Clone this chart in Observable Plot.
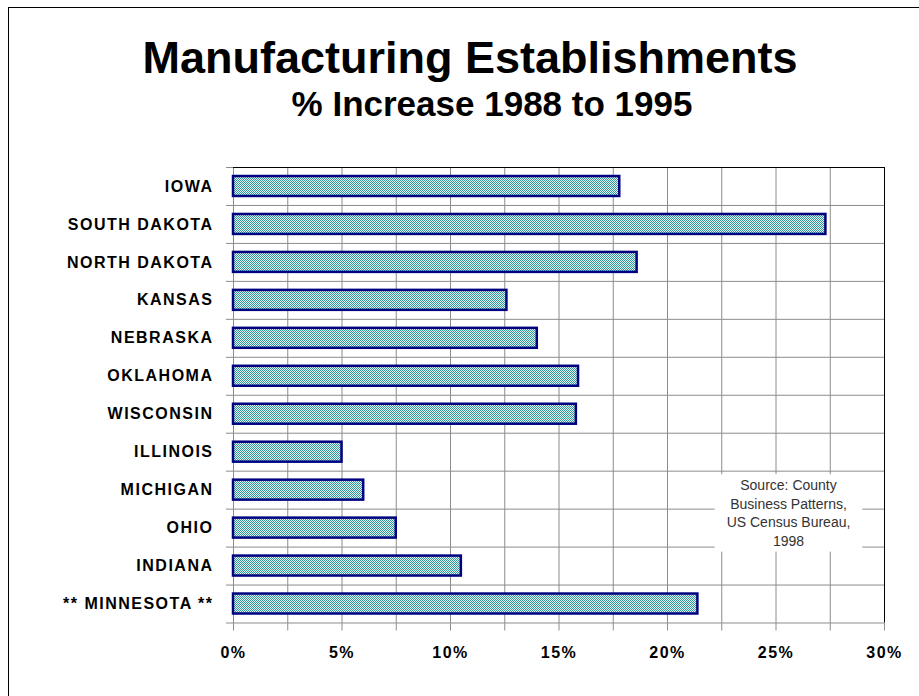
<!DOCTYPE html>
<html>
<head>
<meta charset="utf-8">
<script src="https://cdn.jsdelivr.net/npm/d3@7"></script>
<script src="https://cdn.jsdelivr.net/npm/@observablehq/plot@0.6"></script>
<style>
  body { margin: 0; background: #fff; width: 919px; height: 696px; overflow: hidden; position: relative;
         font-family: Arial, "Liberation Sans", sans-serif; }
  #frame { position: absolute; left: 8px; top: 7px; width: 1000px; height: 1000px;
           border-left: 1px solid #000; border-top: 1px solid #000; pointer-events: none; }
  #head { position: relative; height: 130px; }
  #title { position: absolute; left: 470px; top: 35px; transform: translateX(-50%); white-space: nowrap;
           font-size: 45px; font-weight: bold; line-height: 1; color: #000; }
  #subtitle { position: absolute; left: 492px; top: 86px; transform: translateX(-50%); white-space: nowrap;
              font-size: 35px; font-weight: bold; line-height: 1; color: #000; }
  #chart { position: relative; line-height: 0; }
</style>
</head>
<body>
<div id="frame"></div>
<div id="head">
  <div id="title">Manufacturing Establishments</div>
  <div id="subtitle">% Increase 1988 to 1995</div>
</div>
<div id="chart"></div>
<script>
const states = ["IOWA", "SOUTH DAKOTA", "NORTH DAKOTA", "KANSAS", "NEBRASKA", "OKLAHOMA",
                "WISCONSIN", "ILLINOIS", "MICHIGAN", "OHIO", "INDIANA", "** MINNESOTA **"];
const increases = [17.8, 27.3, 18.6, 12.6, 14.0, 15.9, 15.8, 5.0, 6.0, 7.5, 10.5, 21.4];
const xTicks = [0, 2.5, 5, 7.5, 10, 12.5, 15, 17.5, 20, 22.5, 25, 27.5, 30];
const xLabels = [0, 5, 10, 15, 20, 25, 30];
const sourceLines = ["Source: County", "Business Patterns,", "US Census Bureau,", "1998"];

const data = states.map((s, i) => ({state: s, value: increases[i]}));

const W = 919, H = 560, mt = 37, mb = 67.5, ml = 233, mr = 35;
const step = (H - mt - mb) / states.length;
const grid = "#8c8c8c";

const checker = () => {
  const defs = d3.create("svg:defs");
  const p = defs.append("pattern").attr("id", "checker").attr("width", 2).attr("height", 2)
    .attr("patternUnits", "userSpaceOnUse");
  p.append("rect").attr("width", 2).attr("height", 2).attr("fill", "#e0f2f2");
  p.append("rect").attr("width", 1).attr("height", 1).attr("fill", "#349898");
  p.append("rect").attr("x", 1).attr("y", 1).attr("width", 1).attr("height", 1).attr("fill", "#349898");
  return defs.node();
};

const chart = Plot.plot({
  width: W, height: H,
  marginTop: mt, marginBottom: mb, marginLeft: ml, marginRight: mr,
  style: {fontFamily: "Arial, 'Liberation Sans', sans-serif", fontSize: "16px", fontWeight: "bold",
          color: "#000", background: "transparent", letterSpacing: "1.5px", overflow: "visible"},
  x: {domain: [0, 30], label: null},
  y: {domain: states, padding: 0, round: false, label: null},
  marks: [
    checker,
    Plot.gridX(xTicks, {stroke: grid, strokeOpacity: 1}),
    Plot.ruleY(states, {y: d => d, dy: -step / 2, stroke: grid, insetLeft: -7}),
    Plot.ruleY([states[states.length - 1]], {y: d => d, dy: step / 2, stroke: grid, insetLeft: -7}),
    Plot.ruleX([0], {stroke: grid}),
    Plot.ruleY([states[0]], {y: d => d, dy: -step / 2, stroke: "#000"}),
    Plot.ruleX([30], {stroke: "#000"}),
    Plot.barX(data, {x: "value", y: "state", fill: "url(#checker)", stroke: "#000080", strokeWidth: 2.5,
                     insetTop: 9, insetBottom: 9}),
    Plot.axisX({ticks: xTicks, tickFormat: d => xLabels.includes(d) ? d + "%" : "", tickSize: 8,
                tickPadding: 16, stroke: grid, fill: "#000", label: null}),
    Plot.axisY({tickSize: 0, tickPadding: 20, fill: "#000", label: null}),
    Plot.text([sourceLines.join("\n")], {text: d => d, frameAnchor: "bottom-right", dx: -96, dy: -111,
                textAnchor: "middle", lineAnchor: "middle", lineHeight: 1.32, fontSize: 14,
                fontWeight: "normal", fill: "#333"})
  ]
});

document.getElementById("chart").append(chart);

const tg = chart.querySelector('g[aria-label="text"]');
if (tg) {
  tg.style.letterSpacing = "0px";
  const bb = tg.getBBox();
  const r = document.createElementNS("http://www.w3.org/2000/svg", "rect");
  r.setAttribute("x", bb.x - 12);
  r.setAttribute("y", bb.y - 3);
  r.setAttribute("width", bb.width + 24);
  r.setAttribute("height", bb.height + 6);
  r.setAttribute("fill", "#fff");
  r.setAttribute("stroke", "none");
  tg.insertBefore(r, tg.firstChild);
}
</script>
</body>
</html>
